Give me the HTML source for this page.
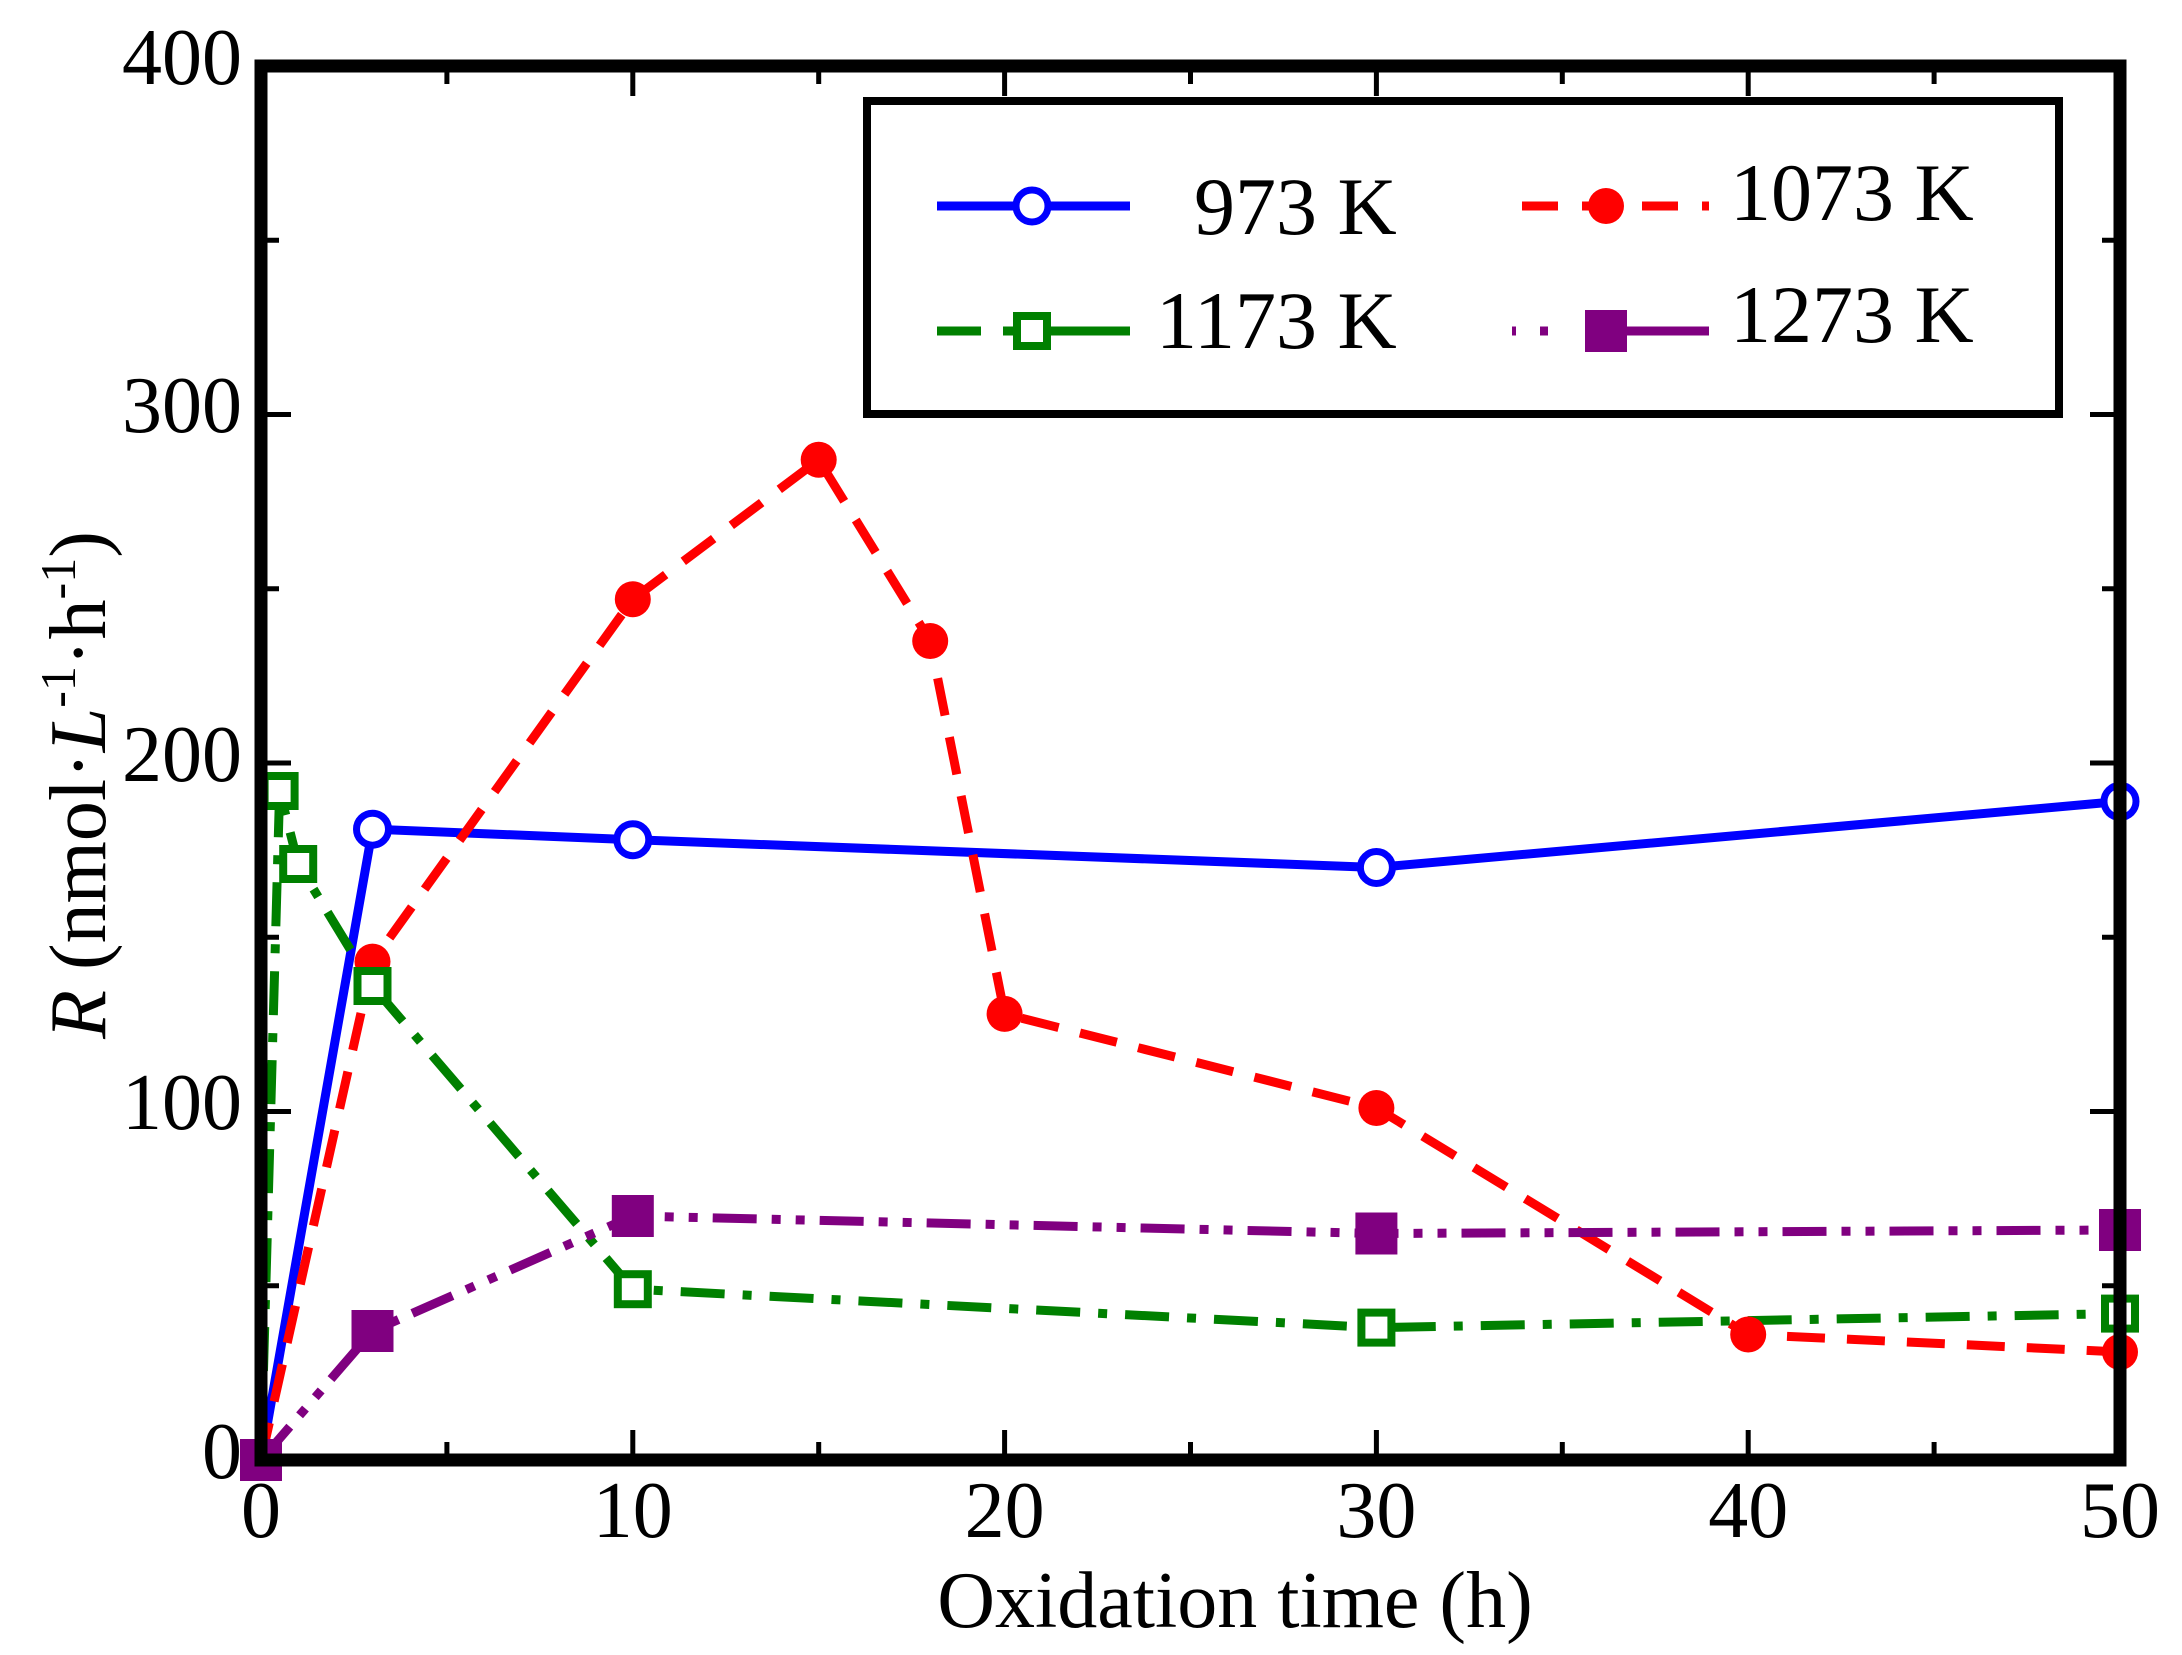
<!DOCTYPE html>
<html><head><meta charset="utf-8"><style>
html,body{margin:0;padding:0;background:#fff}
svg{display:block}
text{font-family:"Liberation Serif",serif;fill:#000}
</style></head><body>
<svg width="2182" height="1655" viewBox="0 0 2182 1655" xmlns="http://www.w3.org/2000/svg">
<rect width="2182" height="1655" fill="#fff"/>
<g stroke="#000" stroke-width="5">
<path d="M632.8,1460v-30M1004.6,1460v-30M1376.4,1460v-30M1748.2,1460v-30"/>
<path d="M632.8,66v30M1004.6,66v30M1376.4,66v30M1748.2,66v30"/>
<path d="M446.9,1460v-18M818.7,1460v-18M1190.5,1460v-18M1562.3,1460v-18M1934.1,1460v-18"/>
<path d="M446.9,66v18M818.7,66v18M1190.5,66v18M1562.3,66v18M1934.1,66v18"/>
<path d="M261,1111.5h30M261,763h30M261,414.5h30"/>
<path d="M2120,1111.5h-30M2120,763h-30M2120,414.5h-30"/>
<path d="M261,1285.8h18M261,937.3h18M261,588.8h18M261,240.3h18"/>
<path d="M2120,1285.8h-18M2120,937.3h-18M2120,588.8h-18M2120,240.3h-18"/>
</g>
<g fill="none" stroke-width="9">
<polyline stroke="#0000ff" points="261,1460 372.5,829.2 632.8,839.7 1376.4,867.5 2120,801.4"/>
<polyline stroke="#ff0000" stroke-dasharray="38,22" points="261,1460 372.5,961.6 632.8,599.2 818.7,459.8 930.2,641 1004.6,1013.9 1376.4,1108 1748.2,1334.5 2120,1352"/>
<polyline stroke="#008000" stroke-dasharray="44,18,9,18" points="261,1460 279.6,791 298.2,864 372.5,986 632.8,1289.2 1376.4,1327.6 2120,1313.6"/>
<polyline stroke="#800080" stroke-dasharray="44,15,9,15,9,15" points="261,1460 372.5,1331 632.8,1216 1376.4,1233.5 2120,1230"/>
</g>
<g fill="#fff" stroke="#0000ff" stroke-width="7">
<circle cx="372.5" cy="829.2" r="16"/><circle cx="632.8" cy="839.7" r="16"/><circle cx="1376.4" cy="867.5" r="16"/><circle cx="2120" cy="801.4" r="16"/><circle cx="261" cy="1460" r="16"/>
</g>
<g fill="#ff0000">
<circle cx="261" cy="1460" r="18"/><circle cx="372.5" cy="961.6" r="18"/><circle cx="632.8" cy="599.2" r="18"/><circle cx="818.7" cy="459.8" r="18"/><circle cx="930.2" cy="641" r="18"/><circle cx="1004.6" cy="1013.9" r="18"/><circle cx="1376.4" cy="1108" r="18"/><circle cx="1748.2" cy="1334.5" r="18"/><circle cx="2120" cy="1352" r="18"/>
</g>
<g fill="#fff" stroke="#008000" stroke-width="8">
<rect x="264.6" y="776" width="30" height="30"/><rect x="283.2" y="849" width="30" height="30"/><rect x="357.5" y="971" width="30" height="30"/><rect x="617.8" y="1274.2" width="30" height="30"/><rect x="1361.4" y="1312.6" width="30" height="30"/><rect x="2105" y="1298.6" width="30" height="30"/>
</g>
<g fill="#800080">
<rect x="351.5" y="1310" width="42" height="42"/><rect x="611.8" y="1195" width="42" height="42"/><rect x="1355.4" y="1212.5" width="42" height="42"/><rect x="2099" y="1209" width="42" height="42"/><rect x="240" y="1439" width="42" height="42"/>
</g>
<rect x="261" y="66" width="1859" height="1394" fill="none" stroke="#000" stroke-width="13"/>
<rect x="867" y="101" width="1192" height="313" fill="#fff" stroke="#000" stroke-width="8"/>
<g stroke-width="9" fill="none">
<line x1="937" y1="206" x2="1130" y2="206" stroke="#0000ff"/>
<line x1="1522" y1="206" x2="1709" y2="206" stroke="#ff0000" stroke-dasharray="36,24"/>
<path d="M937,331h44M1003,331h127" stroke="#008000"/>
<path d="M1512,331h4M1540,331h8M1606,331h103" stroke="#800080"/>
</g>
<circle cx="1032" cy="206" r="16" fill="#fff" stroke="#0000ff" stroke-width="7"/>
<circle cx="1606" cy="206" r="18" fill="#ff0000"/>
<rect x="1017" y="316" width="30" height="30" fill="#fff" stroke="#008000" stroke-width="8"/>
<rect x="1585" y="310" width="42" height="42" fill="#800080"/>
<g font-size="82">
<text x="1194" y="234">973 K</text>
<text x="1730" y="220">1073 K</text>
<text x="1156" y="348">1173 K</text>
<text x="1730" y="342">1273 K</text>
</g>
<g font-size="80" text-anchor="end">
<text x="242" y="84">400</text>
<text x="242" y="432">300</text>
<text x="242" y="781">200</text>
<text x="242" y="1129">100</text>
<text x="242" y="1478">0</text>
</g>
<g font-size="80" text-anchor="middle">
<text x="261" y="1537">0</text>
<text x="632.8" y="1537">10</text>
<text x="1004.6" y="1537">20</text>
<text x="1376.4" y="1537">30</text>
<text x="1748.2" y="1537">40</text>
<text x="2120" y="1537">50</text>
</g>
<text x="1235" y="1627" font-size="80" text-anchor="middle">Oxidation time (h)</text>
<text transform="translate(105,785) rotate(-90)" font-size="80" text-anchor="middle"><tspan font-style="italic">R</tspan> (nmol·<tspan font-style="italic">L</tspan><tspan font-size="50" dy="-30">-1</tspan><tspan dy="30">·h</tspan><tspan font-size="50" dy="-30">-1</tspan><tspan dy="30">)</tspan></text>
</svg>
</body></html>
